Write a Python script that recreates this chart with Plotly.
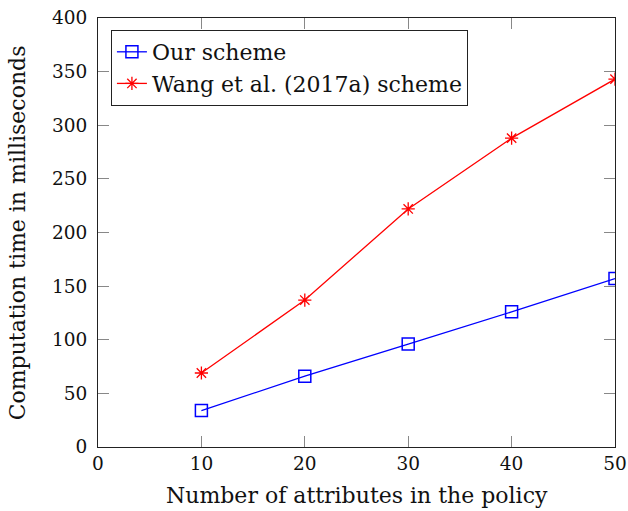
import plotly.graph_objects as go

x_attrs = [10, 20, 30, 40, 50]
our_scheme = [34, 66, 96, 126, 157]
wang_scheme = [69, 137, 222, 288, 343]
x_ticks = [0, 10, 20, 30, 40, 50]
y_ticks = [0, 50, 100, 150, 200, 250, 300, 350, 400]
x_title = "Number of attributes in the policy"
y_title = "Computation time in milliseconds"

FONT = "DejaVu Serif"
TICK_FS = 18.5
TEXT_FS = 22

fig = go.Figure()
fig.add_trace(go.Scatter(
    x=x_attrs, y=our_scheme, mode="lines+markers", name="Our scheme",
    line=dict(color="#0000ff", width=1.3),
    marker=dict(symbol="square-open", size=12, color="#0000ff", line=dict(width=1.5, color="#0000ff")),
))
fig.add_trace(go.Scatter(
    x=x_attrs, y=wang_scheme, mode="lines+markers", name="Wang et al. (2017a) scheme",
    line=dict(color="#ff0000", width=1.3),
    marker=dict(symbol="asterisk-open", size=11, color="#ff0000", line=dict(width=1.3, color="#ff0000")),
))

axis_common = dict(
    showline=True, linecolor="#222", linewidth=1.2, mirror="allticks",
    ticks="inside", ticklen=11, tickcolor="#888", tickwidth=1,
    showgrid=False, zeroline=False, automargin=False,
    ticklabeloverflow="allow",
    tickfont=dict(family=FONT, size=TICK_FS, color="#111"),
)

fig.update_layout(
    width=628, height=511,
    margin=dict(l=98, r=13, t=18, b=64),
    paper_bgcolor="white", plot_bgcolor="white",
    font=dict(family=FONT, color="#111"),
    xaxis=dict(range=[0, 50], tickvals=x_ticks, **axis_common),
    yaxis=dict(range=[0, 400], tickvals=y_ticks, ticklabelstandoff=6, **axis_common),
    legend=dict(x=0.025, y=0.972, xanchor="left", yanchor="top",
                bordercolor="#222", borderwidth=1, bgcolor="white",
                font=dict(family=FONT, size=TEXT_FS), tracegroupgap=0),
    showlegend=True,
    annotations=[
        dict(text=x_title, xref="paper", yref="paper", x=0.5, y=-0.114,
             xanchor="center", yanchor="middle", showarrow=False,
             font=dict(family=FONT, size=TEXT_FS, color="#111")),
        dict(text=y_title, xref="paper", yref="paper", x=-0.155, y=0.5,
             xanchor="center", yanchor="middle", textangle=-90, showarrow=False,
             font=dict(family=FONT, size=TEXT_FS, color="#111")),
    ],
)

# remove the browser's default 8px body margin so the figure fills the window exactly
fig.write_html("out.html",
               config={"displayModeBar": False},
               post_script="document.body.style.margin='0';document.body.style.overflow='hidden';")
